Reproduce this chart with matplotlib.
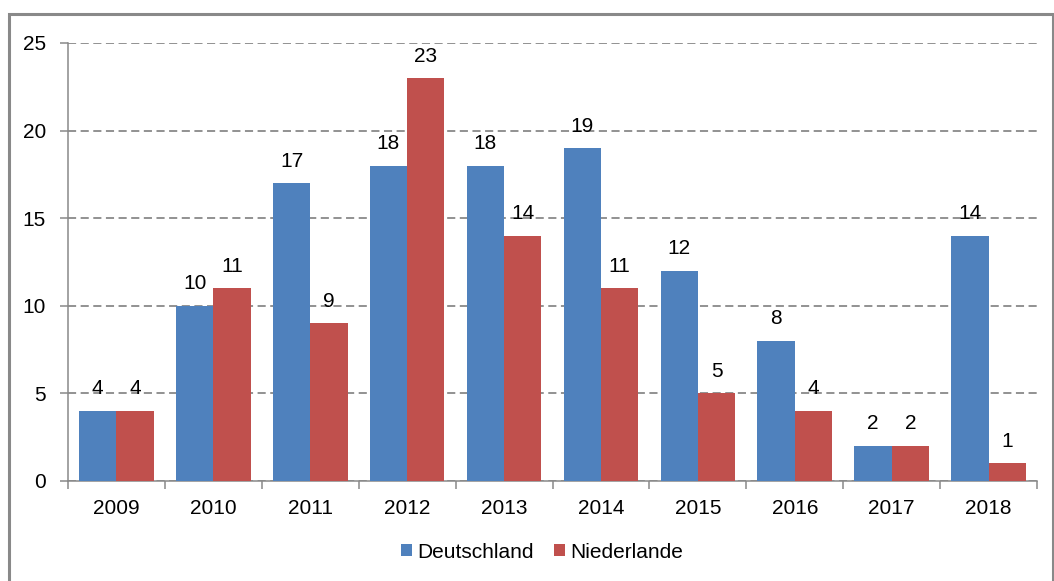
import matplotlib.pyplot as plt
from matplotlib.patches import Rectangle
import numpy as np

years = ["2009", "2010", "2011", "2012", "2013", "2014", "2015", "2016", "2017", "2018"]
deutschland = [4, 10, 17, 18, 18, 19, 12, 8, 2, 14]
niederlande = [4, 11, 9, 23, 14, 11, 5, 4, 2, 1]

blue = "#4F81BD"
red = "#C0504D"
grey = "#898989"
fs = 15

plt.rcParams["font.family"] = ["Liberation Sans", "DejaVu Sans"]

fig = plt.figure(figsize=(10.54, 5.81), dpi=100)
fig.patches.append(Rectangle((9 / 1054, -0.01), 1044 / 1054, 1 - 14 / 581 + 0.01,
                             transform=fig.transFigure, fill=False,
                             edgecolor=grey, linewidth=2.2))
ax = fig.add_axes([68 / 1054, 1 - 481 / 581, (1037 - 68) / 1054, (481 - 43) / 581])

x = np.arange(len(years))
w = 0.385
b1 = ax.bar(x - w / 2, deutschland, w, color=blue, label="Deutschland", zorder=3)
b2 = ax.bar(x + w / 2, niederlande, w, color=red, label="Niederlande", zorder=3)

for bars in (b1, b2):
    for rect in bars:
        h = rect.get_height()
        ax.annotate(str(int(h)), (rect.get_x() + rect.get_width() / 2, h),
                    xytext=(0, 9), textcoords="offset points",
                    ha="center", va="bottom", fontsize=fs)

ax.set_xlim(-0.5, len(years) - 0.5)
ax.set_ylim(0, 25)
ax.set_yticks(range(0, 26, 5))
ax.yaxis.grid(True, linestyle=(0, (4.5, 2.5)), color=grey, linewidth=1.3, zorder=0)
ax.set_axisbelow(True)

ax.set_xticks(np.arange(-0.5, len(years), 1))
ax.set_xticklabels([])
ax.set_xticks(x, minor=True)
ax.set_xticklabels(years, minor=True)
ax.tick_params(axis="x", which="major", length=6, color=grey, width=1.1, direction="out")
ax.tick_params(axis="x", which="minor", length=0, labelsize=fs, pad=13)
ax.tick_params(axis="y", length=6, color=grey, width=1.1, labelsize=fs, pad=10)

for s in ["top", "right"]:
    ax.spines[s].set_visible(False)
for s in ["left", "bottom"]:
    ax.spines[s].set_color(grey)
    ax.spines[s].set_linewidth(1.1)

fig.legend(handles=[b1, b2], loc="center", bbox_to_anchor=(542 / 1054, 1 - 552 / 581),
           ncol=2, frameon=False, fontsize=fs, handlelength=0.5, handleheight=0.5,
           handletextpad=0.25, columnspacing=1.0)

fig.savefig("out.png", dpi=100)
